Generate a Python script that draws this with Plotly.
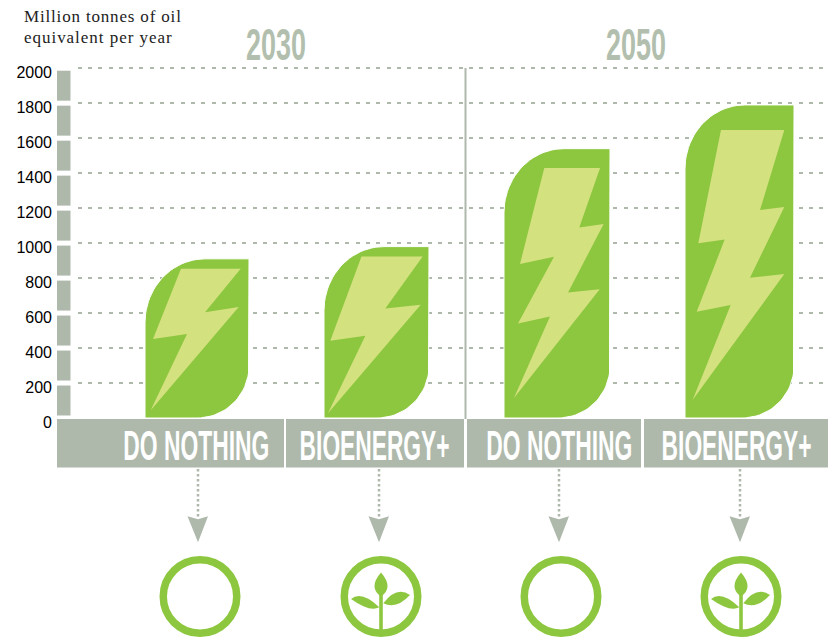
import json
import numpy as np
import plotly.graph_objects as go

# ---------- data ----------
years = ["2030", "2050"]
categories = ["DO NOTHING", "BIOENERGY+", "DO NOTHING", "BIOENERGY+"]
values = [910, 980, 1540, 1790]
y_ticks = [0, 200, 400, 600, 800, 1000, 1200, 1400, 1600, 1800, 2000]
axis_title = ["Million tonnes of oil", "equivalent per year"]

# ---------- layout constants ----------
W, H = 828, 637
PX_ZERO = 418.0
PX_PER_UNIT = 0.1749
GREY = "#aeb9ac"
GREEN = "#8dc73f"
PALE = "#d4e17f"

bar_left = [145, 324, 504, 685]
bar_right = [249, 429, 610, 794]
TL = (60, 64)
BR = (52, 52)

# lightning bolts as fractions of each bar's width / height
bolts = [
    [(.346, .938), (.920, .938), (.577, .665), (.901, .697), (.055, .048), (.404, .527), (.077, .496)],
    [(.357, .942), (.940, .942), (.584, .639), (.921, .661), (.038, .027), (.394, .480), (.060, .450)],
    [(.380, .928), (.906, .928), (.710, .707), (.940, .720), (.604, .466), (.903, .478),
     (.094, .074), (.434, .377), (.132, .351), (.472, .599), (.151, .572)],
    [(.330, .920), (.911, .920), (.688, .664), (.911, .674), (.596, .448), (.911, .460),
     (.071, .058), (.419, .361), (.107, .339), (.364, .570), (.122, .558)],
]

bands = [(57, 284), (286, 464), (467, 641), (644, 828)]
label_right = [269, 449, 632, 811]
label_width = [146, 149, 146, 150]
icon_x = [200, 381, 561, 741]
arrow_x = [198, 379, 559, 740]
has_plant = [False, True, False, True]


def dy(px):
    """figure pixel row -> value on the y axis"""
    return (PX_ZERO - px) / PX_PER_UNIT


def bar_outline(left, right, value):
    top = PX_ZERO - value * PX_PER_UNIT
    t = np.linspace(0, np.pi / 2, 24)
    # top-left corner, from the left side up to the top edge
    xs = list(left + TL[0] - TL[0] * np.cos(t))
    ys = list(top + TL[1] - TL[1] * np.sin(t))
    xs += [right]
    ys += [top]
    # bottom-right corner, from the right side round to the bottom edge
    xs += list(right - BR[0] + BR[0] * np.cos(t))
    ys += list(PX_ZERO - BR[1] + BR[1] * np.sin(t))
    xs += [left, left]
    ys += [PX_ZERO, top + TL[1]]
    return xs, [dy(p) for p in ys]


fig = go.Figure()

# axis strip between the ticks
gap = 2.5 / PX_PER_UNIT
fig.add_trace(go.Bar(
    x=[63.5] * (len(y_ticks) - 1),
    y=[hi - lo - 2 * gap for lo, hi in zip(y_ticks[:-1], y_ticks[1:])],
    base=[lo + gap for lo in y_ticks[:-1]],
    width=14, marker=dict(color=GREY, line=dict(width=0)),
    hoverinfo="skip", showlegend=False))

# bars and bolts
for i, v in enumerate(values):
    xs, ys = bar_outline(bar_left[i], bar_right[i], v)
    fig.add_trace(go.Scatter(
        x=xs, y=ys, mode="lines", fill="toself", fillcolor=GREEN,
        line=dict(color="#ffffff", width=1), name=categories[i],
        hoverinfo="name", showlegend=False))
    bw = bar_right[i] - bar_left[i]
    bx = [bar_left[i] + f[0] * bw for f in bolts[i]]
    by = [f[1] * v for f in bolts[i]]
    fig.add_trace(go.Scatter(
        x=bx + bx[:1], y=by + by[:1], mode="lines", fill="toself", fillcolor=PALE,
        line=dict(width=0), hoverinfo="skip", showlegend=False))

shapes = [
    # hides the gridlines behind the axis strip
    dict(type="rect", xref="x", yref="y", x0=57, x1=72, y0=dy(60), y1=dy(419),
         fillcolor="white", line_width=0, layer="between"),
    # hides the gridline at zero, which sits against the label bands
    dict(type="rect", xref="x", yref="y", x0=57, x1=828, y0=dy(416), y1=dy(421),
         fillcolor="white", line_width=0, layer="between"),
    # divider between the two years
    dict(type="line", xref="x", yref="y", x0=465.5, x1=465.5, y0=dy(68), y1=dy(419),
         line=dict(color=GREY, width=2), layer="above"),
]
for x0, x1 in bands:
    shapes.append(dict(type="rect", xref="x", yref="y", x0=x0, x1=x1, y0=dy(419), y1=dy(467.5),
                       fillcolor=GREY, line_width=0, layer="above"))


def pt(cx, cy, ox, oy):
    return f"{cx + ox:.2f},{dy(cy + oy):.2f}"


CY = 596.5
for i in range(4):
    ax = arrow_x[i]
    shapes.append(dict(type="line", xref="x", yref="y", x0=ax, x1=ax, y0=dy(469), y1=dy(518),
                       line=dict(color=GREY, width=2.5, dash="2.5px,2.5px")))
    head = ("M" + pt(ax, 516.3, -10.5, 0) + " L" + pt(ax, 516.3, 0, 3) + " L" + pt(ax, 516.3, 10, 0)
            + " L" + pt(ax, 516.3, 0, 26) + " Z")
    shapes.append(dict(type="path", xref="x", yref="y", path=head, fillcolor=GREY, line_width=0))
    c = icon_x[i]
    r = 36.75
    shapes.append(dict(type="circle", xref="x", yref="y", x0=c - r, x1=c + r,
                       y0=dy(CY + r), y1=dy(CY - r), line=dict(color=GREEN, width=7.5)))
    if has_plant[i]:
        leaves = [
            [(0, -24), (-13, -9), (0, 0), (13, -9)],
            [(-30, 2.5), (-19.5, -6.2), (-1.7, 10.8), (-11, 16)],
            [(29, -1.5), (15.7, -11), (2.3, 6.8), (15.7, 13)],
        ]
        for a, b, d, e in leaves:
            p = ("M" + pt(c, CY, *a) + " Q" + pt(c, CY, *b) + " " + pt(c, CY, *d)
                 + " Q" + pt(c, CY, *e) + " " + pt(c, CY, *a) + " Z")
            shapes.append(dict(type="path", xref="x", yref="y", path=p, fillcolor=GREEN, line_width=0))
        stem = ("M" + pt(c, CY, -1.8, -2) + " L" + pt(c, CY, 1.8, -2) + " L" + pt(c, CY, 1.8, 36)
                + " L" + pt(c, CY, -1.8, 36) + " Z")
        shapes.append(dict(type="path", xref="x", yref="y", path=stem, fillcolor=GREEN, line_width=0))

NARROW = "Liberation Sans Narrow, Liberation Sans, sans-serif"
annotations = []
targets = {}
for i, cat in enumerate(categories):
    annotations.append(dict(x=label_right[i] - label_width[i] / 2, y=dy(445), text=cat, xref="x", yref="y",
                            showarrow=False, xanchor="center", yanchor="middle",
                            font=dict(family=NARROW, size=43, color="white", weight=700)))
targets["DO NOTHING"] = 146
targets["BIOENERGY+"] = 150
for yr, xc in zip(years, [275.5, 636]):
    annotations.append(dict(x=xc, y=dy(44), text=yr, xref="x", yref="y", showarrow=False,
                            xanchor="center", yanchor="middle",
                            font=dict(family=NARROW, size=44, color="#b3bfae", weight=700)))
    targets[yr] = 60
spacing = {axis_title[0]: 158, axis_title[1]: 149}
for line, py in zip(axis_title, [17, 38]):
    annotations.append(dict(x=(22 - 57) / (W - 57), y=1 - py / H, text=line, xref="paper", yref="paper",
                            showarrow=False, xanchor="left", yanchor="middle",
                            font=dict(family="Liberation Serif, serif", size=17, color="#222222")))

fig.update_layout(
    width=W, height=H, autosize=False,
    margin=dict(l=57, r=0, t=0, b=0, pad=0),
    paper_bgcolor="white", plot_bgcolor="white",
    barmode="overlay", showlegend=False,
    shapes=shapes, annotations=annotations,
    xaxis=dict(range=[57, 828], visible=False, fixedrange=True),
    yaxis=dict(range=[dy(H), dy(0)], tickvals=y_ticks, ticktext=[str(t) for t in y_ticks],
               ticks="", ticklabelstandoff=4, showline=False, zeroline=False,
               showgrid=True, gridcolor=GREY, gridwidth=2, griddash="4px,6.3px",
               tickfont=dict(family="Liberation Sans, Arial, sans-serif", size=16, color="black"),
               fixedrange=True),
)

post = """
document.documentElement.style.margin = '0';
document.body.style.margin = '0';
var widths = %s, spaced = %s;
document.querySelectorAll('.annotation text').forEach(function (t) {
  var s = t.textContent, w = t.getBBox().width;
  if (widths[s]) {
    t.style.transformBox = 'fill-box';
    t.style.transformOrigin = 'center';
    t.style.transform = 'scaleX(' + (widths[s] / w) + ')';
  } else if (spaced[s]) {
    t.style.letterSpacing = ((spaced[s] - w) / s.length) + 'px';
    t.setAttribute('dx', (spaced[s] - w) / 2);
  }
});
document.querySelectorAll('.ytick text').forEach(function (t) {
  t.setAttribute('dy', '4');
});
""" % (json.dumps(targets), json.dumps(spacing))

fig.write_html("out.html", post_script=post, config=dict(displayModeBar=False))
